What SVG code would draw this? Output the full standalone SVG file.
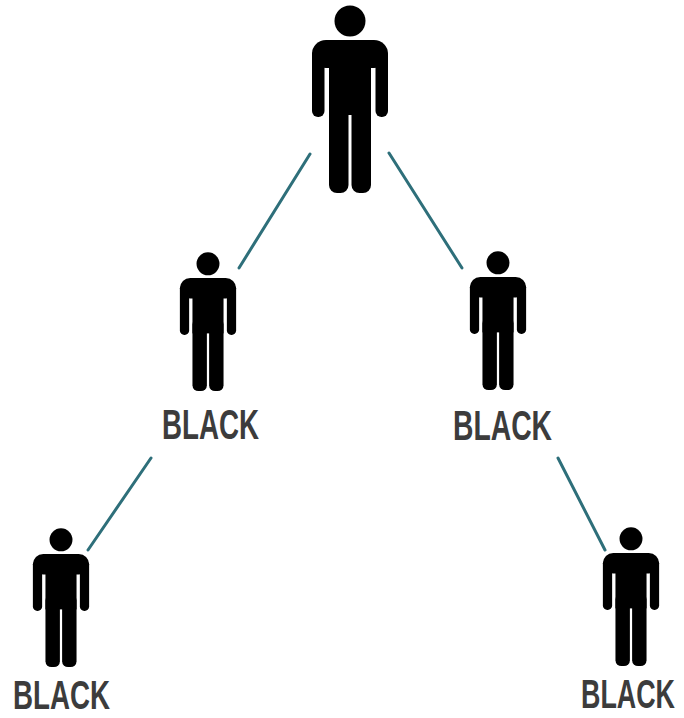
<svg xmlns="http://www.w3.org/2000/svg" xmlns:xlink="http://www.w3.org/1999/xlink" width="684" height="718" viewBox="0 0 684 718">
<style>
.lbl{font-family:"Liberation Sans","DejaVu Sans Condensed",Arial,sans-serif;font-weight:bold;font-size:43px;fill:#3c3c3c;text-anchor:start}
.lbl.b{font-size:40px}
.lbl.e{text-anchor:end}
.edge{stroke:#2e6f7a;stroke-width:3;stroke-linecap:round;fill:none}
.fig{fill:#000}
</style>
<defs>
<g id="person" class="fig">
<circle cx="0" cy="16" r="15.5"/>
<rect x="-38" y="35" width="76" height="28" rx="14"/>
<rect x="-38" y="44" width="12.5" height="68" rx="6"/>
<rect x="25.5" y="44" width="12.5" height="68" rx="6"/>
<rect x="-21" y="44" width="42" height="66"/>
<rect x="-21" y="90" width="19.5" height="98" rx="8"/>
<rect x="1.5" y="90" width="19.5" height="98" rx="8"/>
</g>
</defs>
<rect width="684" height="718" fill="#fff"/>
<g id="connectors">
<line class="edge" x1="310" y1="154" x2="239" y2="268"/>
<line class="edge" x1="389" y1="153" x2="462" y2="268"/>
<line class="edge" x1="151" y1="458" x2="88" y2="550"/>
<line class="edge" x1="558" y1="458" x2="605" y2="550"/>
</g>
<g id="n-top">
<use xlink:href="#person" href="#person" transform="translate(350,5)"/>
</g>
<g id="n-mid-left">
<use xlink:href="#person" href="#person" transform="translate(208,252) scale(0.74)"/>
<text class="lbl" x="162" y="439" textLength="97" lengthAdjust="spacingAndGlyphs">BLACK</text>
</g>
<g id="n-mid-right">
<use xlink:href="#person" href="#person" transform="translate(498,251) scale(0.74)"/>
<text class="lbl" x="453" y="440" textLength="99" lengthAdjust="spacingAndGlyphs">BLACK</text>
</g>
<g id="n-bot-left">
<use xlink:href="#person" href="#person" transform="translate(61,528) scale(0.74)"/>
<text class="lbl b" x="13" y="709" textLength="97" lengthAdjust="spacingAndGlyphs">BLACK</text>
</g>
<g id="n-bot-right">
<use xlink:href="#person" href="#person" transform="translate(631,527) scale(0.74)"/>
<text class="lbl b e" x="675" y="708" textLength="94" lengthAdjust="spacingAndGlyphs">BLACK</text>
</g>
</svg>
